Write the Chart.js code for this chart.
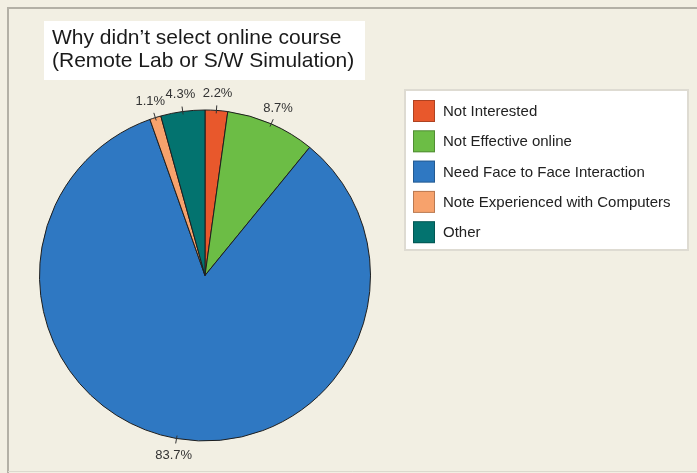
<!DOCTYPE html>
<html>
<head>
<meta charset="utf-8">
<script src="https://cdn.jsdelivr.net/npm/chart.js@4/dist/chart.umd.min.js"></script>
<style>
  body { margin: 0; background: #f2efe3; }
  #pie { display: block; }
</style>
</head>
<body>
<canvas id="pie" width="697" height="473"></canvas>
<script>
// survey answers, clockwise from 12 o'clock
var reasons = ['Not Interested', 'Not Effective online', 'Need Face to Face Interaction', 'Note Experienced with Computers', 'Other'];
var percents = [2.2, 8.7, 83.7, 1.1, 4.3];
var sliceColors = ['#e8582c', '#6cbd45', '#2f78c2', '#f7a26c', '#03736f'];
var titleLines = ['Why didn\u2019t select online course', '(Remote Lab or S/W Simulation)'];

var FONT = '"Liberation Sans", Arial, sans-serif';

// panel background, frame and title box
var backdrop = {
  id: 'backdrop',
  beforeDraw: function(chart) {
    var ctx = chart.ctx;
    ctx.save();
    ctx.fillStyle = '#f2efe3';
    ctx.fillRect(0, 0, chart.width, chart.height);
    ctx.strokeStyle = '#b3b0a6';
    ctx.lineWidth = 2;
    ctx.beginPath();
    ctx.moveTo(8, chart.height);
    ctx.lineTo(8, 8);
    ctx.lineTo(chart.width, 8);
    ctx.stroke();
    ctx.strokeStyle = '#dcd9ce';
    ctx.lineWidth = 1;
    ctx.beginPath();
    ctx.moveTo(8, chart.height - 1.5);
    ctx.lineTo(chart.width, chart.height - 1.5);
    ctx.stroke();

    ctx.fillStyle = '#ffffff';
    ctx.fillRect(44, 21, 321, 59);
    ctx.fillStyle = '#1a1a1a';
    ctx.font = '21px ' + FONT;
    ctx.textBaseline = 'alphabetic';
    ctx.textAlign = 'left';
    titleLines.forEach(function(line, i) {
      ctx.fillText(line, 52, 44 + i * 23);
    });
    ctx.restore();
  }
};

// percentage labels with small leader ticks, plus the legend panel
var decorations = {
  id: 'decorations',
  afterDraw: function(chart) {
    var ctx = chart.ctx;
    var meta = chart.getDatasetMeta(0);
    ctx.save();
    ctx.font = '13px ' + FONT;
    ctx.fillStyle = '#333333';
    ctx.strokeStyle = '#333333';
    ctx.lineWidth = 1;
    ctx.textAlign = 'center';
    ctx.textBaseline = 'middle';
    meta.data.forEach(function(arc, i) {
      var p = arc.getProps(['x', 'y', 'startAngle', 'endAngle', 'outerRadius'], true);
      var mid = (p.startAngle + p.endAngle) / 2;
      var r = p.outerRadius;
      var cos = Math.cos(mid), sin = Math.sin(mid);
      ctx.beginPath();
      ctx.moveTo(p.x + cos * (r - 3), p.y + sin * (r - 3));
      ctx.lineTo(p.x + cos * (r + 5), p.y + sin * (r + 5));
      ctx.stroke();
      ctx.fillText(percents[i].toFixed(1) + '%', p.x + cos * (r + 17), p.y + sin * (r + 17));
    });

    // legend
    var lx = 405, ly = 90, lw = 283, lh = 160;
    ctx.fillStyle = '#ffffff';
    ctx.fillRect(lx, ly, lw, lh);
    ctx.strokeStyle = '#dedbd2';
    ctx.lineWidth = 2;
    ctx.strokeRect(lx, ly, lw, lh);
    ctx.font = '15px ' + FONT;
    ctx.textAlign = 'left';
    reasons.forEach(function(name, i) {
      var cy = ly + 21 + i * 30.3;
      ctx.fillStyle = sliceColors[i];
      ctx.fillRect(lx + 8, cy - 11, 22, 22);
      ctx.strokeStyle = 'rgba(0,0,0,0.25)';
      ctx.lineWidth = 1;
      ctx.strokeRect(lx + 8.5, cy - 10.5, 21, 21);
      ctx.fillStyle = '#222222';
      ctx.fillText(name, lx + 38, cy + 1);
    });
    ctx.restore();
  }
};

new Chart(document.getElementById('pie'), {
  type: 'pie',
  data: {
    labels: reasons,
    datasets: [{
      data: percents,
      backgroundColor: sliceColors,
      borderColor: '#1e1e1e',
      borderWidth: 1
    }]
  },
  options: {
    responsive: false,
    animation: false,
    layout: { padding: { left: 39, right: 326, top: 109, bottom: 31 } },
    plugins: {
      legend: { display: false },
      tooltip: { enabled: false }
    }
  },
  plugins: [backdrop, decorations]
});
</script>
</body>
</html>
